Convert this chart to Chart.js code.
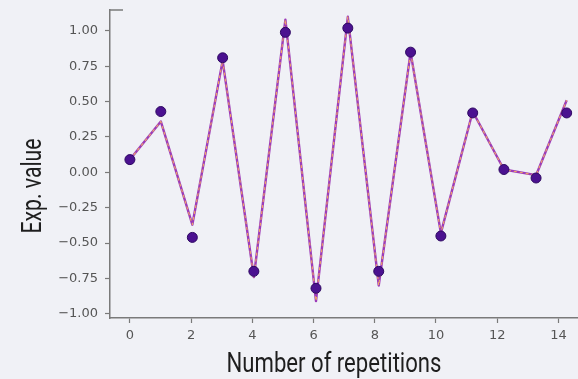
<!DOCTYPE html>
<html>
<head>
<meta charset="utf-8">
<script src="https://cdn.jsdelivr.net/npm/chart.js@4/dist/chart.umd.min.js"></script>
<style>
    html, body { margin: 0; padding: 0; background: #f0f1f6; overflow: hidden; }
    canvas { display: block; }
</style>
</head>
<body>
<canvas id="repChart" width="578" height="379"></canvas>
<script>
/* ── DADOS ── */
const repetitionX = [0, 1.01, 2.04, 3.03, 4.05, 5.08, 6.08, 7.12, 8.13, 9.17, 10.16, 11.2, 12.22, 13.27, 14.27];
const theoryValues = [0.09, 0.36, -0.37, 0.79, -0.74, 1.08, -0.91, 1.10, -0.80, 0.85, -0.43, 0.43, 0.02, -0.02, 0.51];
const measuredValues = [0.09, 0.43, -0.46, 0.81, -0.70, 0.99, -0.82, 1.02, -0.70, 0.85, -0.45, 0.42, 0.02, -0.04, 0.42];
const xTickValues = [0, 2, 4, 6, 8, 10, 12, 14];
const yTickValues = [-1, -0.75, -0.5, -0.25, 0, 0.25, 0.5, 0.75, 1];
const xTitle = 'Number of repetitions';
const yTitle = 'Exp. value';

const toPoints = vals => vals.map((v, i) => ({ x: repetitionX[i], y: v }));

const axisColor = '#7a7a7a';
const titleFont = '27px Roboto, "DejaVu Sans Condensed", sans-serif';

/* ── TÍTULOS E CANTO DO EIXO ── */
function drawNarrowText(c, text, x, y, width) {
    const w = c.measureText(text).width;
    c.save();
    c.translate(x, y);
    c.scale(width / w, 1);
    c.fillText(text, 0, 0);
    c.restore();
}

const axisExtras = {
    id: 'axisExtras',
    afterDraw(chart) {
        const c = chart.ctx;
        const area = chart.chartArea;
        c.save();
        c.strokeStyle = axisColor;
        c.lineWidth = 1.5;
        c.beginPath();
        c.moveTo(area.left, area.top);
        c.lineTo(area.left + 13, area.top);
        c.stroke();

        c.fillStyle = '#1e1e1e';
        c.font = titleFont;
        c.textAlign = 'center';
        c.textBaseline = 'alphabetic';
        drawNarrowText(c, xTitle, 334, 372, 215);

        c.translate(41, 186);
        c.rotate(-Math.PI / 2);
        drawNarrowText(c, yTitle, 0, 0, 95);
        c.restore();
    }
};

const ctx = document.getElementById('repChart');

new Chart(ctx, {
    type: 'scatter',
    data: {
        datasets: [{
            label: 'theory',
            data: toPoints(theoryValues),
            showLine: true,
            borderColor: '#9d3cb8',
            borderWidth: 2.4,
            borderJoinStyle: 'round',
            pointRadius: 0,
            order: 3
        }, {
            label: 'theory dashed',
            data: toPoints(theoryValues),
            showLine: true,
            borderColor: '#f2a664',
            borderWidth: 1.1,
            borderDash: [3, 3],
            borderJoinStyle: 'round',
            pointRadius: 0,
            order: 2
        }, {
            label: 'measured',
            data: toPoints(measuredValues),
            pointRadius: 5,
            pointBackgroundColor: '#4b1190',
            pointBorderColor: '#2e0862',
            pointBorderWidth: 1,
            clip: false,
            order: 1
        }]
    },
    options: {
        responsive: false,
        animation: false,
        layout: { autoPadding: false, padding: { top: 10, right: 0, left: 0, bottom: 0 } },
        plugins: {
            legend: { display: false },
            tooltip: { enabled: false }
        },
        scales: {
            x: {
                type: 'linear',
                min: -0.65,
                max: 14.64,
                afterBuildTicks: s => { s.ticks = xTickValues.map(v => ({ value: v })); },
                afterFit: s => { s.height = 61; s.paddingRight = 0; s.paddingLeft = 0; },
                border: { color: axisColor, width: 1.5 },
                grid: { drawOnChartArea: false, tickLength: 5, color: axisColor, tickWidth: 1.2 },
                ticks: {
                    color: '#555',
                    padding: 5,
                    font: { family: 'DejaVu Sans', size: 13 },
                    callback: v => String(v)
                }
            },
            y: {
                type: 'linear',
                min: -1.03,
                max: 1.148,
                afterBuildTicks: s => { s.ticks = yTickValues.map(v => ({ value: v })); },
                afterFit: s => { s.width = 110; s.paddingTop = 0; s.paddingBottom = 0; },
                border: { color: axisColor, width: 1.5 },
                grid: { drawOnChartArea: false, tickLength: 5, color: axisColor, tickWidth: 1.2 },
                ticks: {
                    color: '#555',
                    padding: 7,
                    font: { family: 'DejaVu Sans', size: 13 },
                    callback: v => v.toFixed(2).replace('-', '\u2212')
                }
            }
        }
    },
    plugins: [axisExtras]
});
</script>
</body>
</html>
